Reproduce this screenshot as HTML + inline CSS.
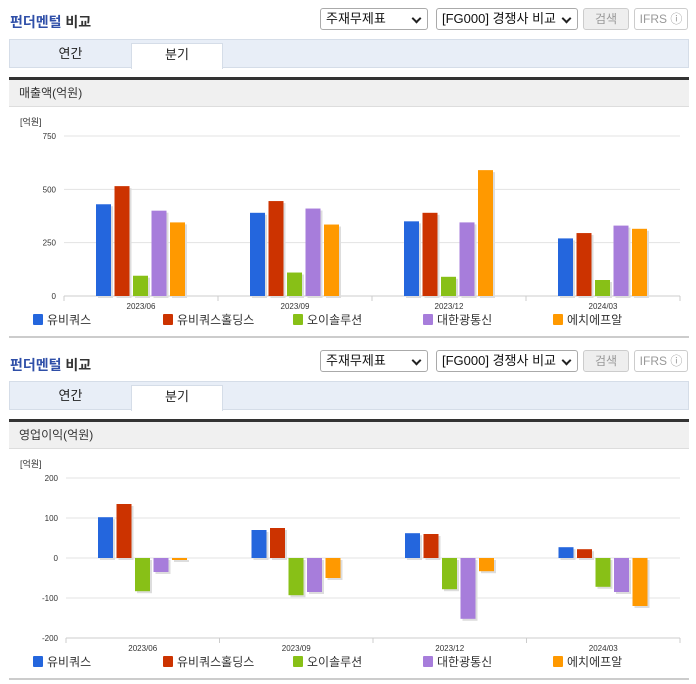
<!DOCTYPE html>
<html><head><meta charset="utf-8">
<style>
body{margin:0;width:696px;height:684px;background:#fff;font-family:"Liberation Sans","Noto Sans CJK KR",sans-serif;position:relative;overflow:hidden}
.abs{position:absolute}
.title{font-size:14px;font-weight:bold;color:#2f4fa8}
.title span{color:#333}
.sel{border:1px solid #aaa;border-radius:3px;height:22px;box-sizing:border-box;font-size:13px;color:#111;background:#fff;line-height:20px;padding-left:5px}
.sel:after{content:"";position:absolute;right:7px;top:6px;width:5px;height:5px;border-right:2px solid #222;border-bottom:2px solid #222;transform:rotate(45deg)}
.btn{border:1px solid #ccc;border-radius:3px;height:22px;box-sizing:border-box;font-size:12px;color:#999;text-align:center;line-height:20px}
.tabs{left:9px;width:680px;height:29px;background:#e8eef7;border:1px solid #d5dde8;box-sizing:border-box}
.tab{font-size:13px;color:#222;text-align:center;line-height:29px;height:29px;box-sizing:border-box}
.hdr{left:9px;width:680px;height:30px;background:#f0f0f0;border-top:3px solid #333;border-bottom:1px solid #ddd;box-sizing:border-box;font-size:12px;color:#333;line-height:26px;padding-left:10px}
.bot{left:9px;width:680px;height:2px;background:#ccc}
svg text{font-family:"Liberation Sans","Noto Sans CJK KR",sans-serif}
</style></head><body>

<div class="abs title" style="left:10px;top:12px">펀더멘털 <span>비교</span></div>
<div class="abs sel" style="left:320px;top:8px;width:108px">주재무제표</div>
<div class="abs sel" style="left:436px;top:8px;width:142px">[FG000] 경쟁사 비교</div>
<div class="abs btn" style="left:583px;top:8px;width:46px;background:#eee">검색</div>
<div class="abs btn" style="left:634px;top:8px;width:54px">IFRS ⓘ</div>
<div class="abs tabs" style="top:39px"></div>
<div class="abs tab" style="left:10px;top:39px;width:121px">연간</div>
<div class="abs tab" style="left:131px;top:43px;width:92px;height:26px;line-height:22px;background:#fff;border:1px solid #d5dde8;border-bottom:none">분기</div>
<div class="abs hdr" style="top:77px">매출액(억원)</div>
<svg class="abs" id="c1" style="left:0;top:110px" width="696" height="226"></svg>
<div class="abs bot" style="top:336px"></div>

<div class="abs title" style="left:10px;top:355px">펀더멘털 <span>비교</span></div>
<div class="abs sel" style="left:320px;top:350px;width:108px">주재무제표</div>
<div class="abs sel" style="left:436px;top:350px;width:142px">[FG000] 경쟁사 비교</div>
<div class="abs btn" style="left:583px;top:350px;width:46px;background:#eee">검색</div>
<div class="abs btn" style="left:634px;top:350px;width:54px">IFRS ⓘ</div>
<div class="abs tabs" style="top:381px"></div>
<div class="abs tab" style="left:10px;top:381px;width:121px">연간</div>
<div class="abs tab" style="left:131px;top:385px;width:92px;height:26px;line-height:22px;background:#fff;border:1px solid #d5dde8;border-bottom:none">분기</div>
<div class="abs hdr" style="top:419px">영업이익(억원)</div>
<svg class="abs" id="c2" style="left:0;top:452px" width="696" height="226"></svg>
<div class="abs bot" style="top:678px"></div>

<script>
const categories=["2023/06","2023/09","2023/12","2024/03"];
const seriesNames=["유비쿼스","유비쿼스홀딩스","오이솔루션","대한광통신","에치에프알"];
const seriesColors=["#2466dd","#cc3300","#88c017","#a77ddb","#ff9900"];
const rev1=[430,390,350,270];
const rev2=[515,445,390,295];
const rev3=[95,110,90,75];
const rev4=[400,410,345,330];
const rev5=[345,335,590,315];
const revTicks=[0,250,500,750];
const op1=[102,70,62,27];
const op2=[135,75,60,22];
const op3=[-83,-93,-78,-72];
const op4=[-35,-85,-152,-85];
const op5=[-5,-50,-33,-120];
const opTicks=[-200,-100,0,100,200];

const NS="http://www.w3.org/2000/svg";
function mk(svg,tag,attrs,txt){const e=document.createElementNS(NS,tag);for(const k in attrs)e.setAttribute(k,attrs[k]);if(txt!==undefined)e.textContent=txt;svg.appendChild(e);return e;}
function draw(id,series,ticks,x0,x1,yTop,yBot,prefix){
  const svg=document.getElementById(id);
  const mn=ticks[0],mx=ticks[ticks.length-1];
  const y=v=>yBot-(v-mn)/(mx-mn)*(yBot-yTop);
  const gw=(x1-x0)/categories.length;
  let t=mk(svg,'text',{x:20,y:15,'font-size':9,fill:'#333'},'[억원]');
  
  
  ticks.forEach(v=>{
    let l=mk(svg,'line',{x1:x0,x2:x1,y1:y(v),y2:y(v),stroke:'#e3e3e3','stroke-width':1});
    
    
    let tx=mk(svg,'text',{x:x0-8,y:y(v)+3,'font-size':8,fill:'#333','text-anchor':'end'},String(v));
    
    
  });
  let ax=mk(svg,'line',{x1:x0,x2:x1,y1:yBot,y2:yBot,stroke:'#ccc'});
  
  
  categories.forEach((c,i)=>{
    const gx=x0+i*gw;
    mk(svg,'line',{x1:gx,x2:gx,y1:yBot,y2:yBot+5,stroke:'#ccc'});
    if(i==categories.length-1)mk(svg,'line',{x1:gx+gw,x2:gx+gw,y1:yBot,y2:yBot+5,stroke:'#ccc'});
    let tx=mk(svg,'text',{x:gx+gw/2,y:yBot+13,'font-size':8,fill:'#333','text-anchor':'middle'},c);
    
    
    const zero=y(Math.max(0,mn));
    series.forEach((s,j)=>{
      const bx=gx+32+j*18.5, v=s[i], by=y(v);
      const top=Math.min(by,zero),h=Math.abs(zero-by);
      mk(svg,'rect',{x:bx+2,y:top+2,width:15,height:h,fill:'#ddd'});
      let r=mk(svg,'rect',{x:bx,y:top,width:15,height:h,fill:seriesColors[j]});
      
      
    });
  });
  seriesNames.forEach((n,j)=>{
    const lx=33+j*130;
    let r=mk(svg,'rect',{x:lx,y:yBot+18,width:10,height:11,fill:seriesColors[j],rx:1});
    
    
    let tx=mk(svg,'text',{x:lx+14,y:yBot+28,'font-size':12,fill:'#333'},n);
    
    
  });
}
draw('c1',[rev1,rev2,rev3,rev4,rev5],revTicks,64,680,26,186,'revenue');
draw('c2',[op1,op2,op3,op4,op5],opTicks,66,680,26,186,'op-profit');
</script>
</body></html>
